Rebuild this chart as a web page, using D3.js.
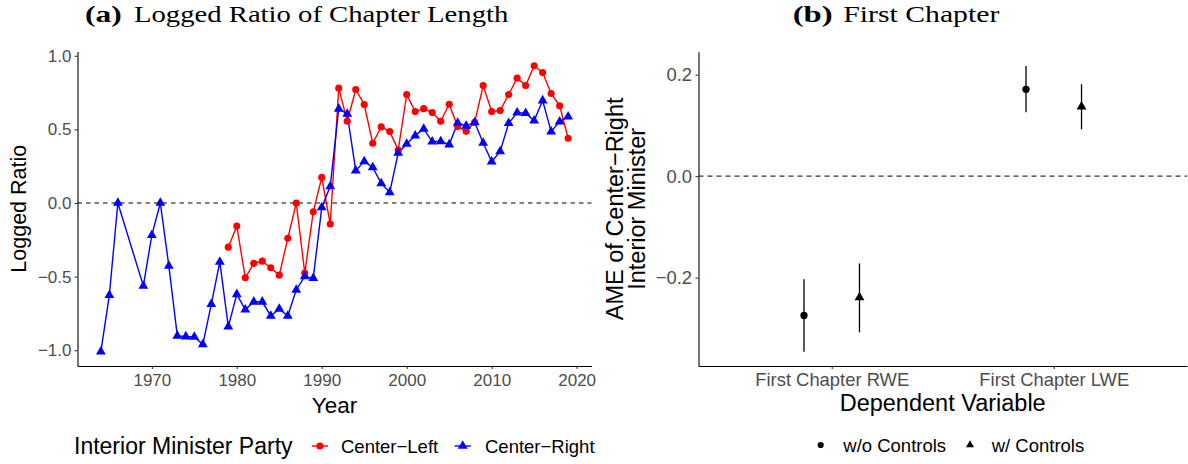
<!DOCTYPE html>
<html>
<head>
<meta charset="utf-8">
<script src="https://cdn.jsdelivr.net/npm/d3@7/dist/d3.min.js"></script>
<style>
  body { margin: 0; background: #fff; }
  svg text { font-family: "Liberation Sans", Arial, Helvetica, sans-serif; }
</style>
</head>
<body>
<svg id="chart" width="1188" height="464"></svg>
<script>
// panel (a): logged ratio by year, one series per party
const leftYears = [1979, 1980, 1981, 1982, 1983, 1984, 1985, 1986, 1987, 1988, 1989, 1990,
  1991, 1992, 1993, 1994, 1995, 1996, 1997, 1998, 1999, 2000, 2001, 2002, 2003, 2004,
  2005, 2006, 2007, 2008, 2009, 2010, 2011, 2012, 2013, 2014, 2015, 2016, 2017, 2018, 2019];
const leftValues = [-0.30, -0.157, -0.508, -0.41, -0.395, -0.44, -0.49, -0.24, 0.0, -0.476,
  -0.06, 0.174, -0.143, 0.78, 0.555, 0.771, 0.669, 0.406, 0.517, 0.485, 0.36, 0.737, 0.621,
  0.641, 0.614, 0.555, 0.671, 0.519, 0.487, 0.548, 0.798, 0.621, 0.628, 0.737, 0.848, 0.798,
  0.932, 0.886, 0.744, 0.66, 0.44];

const rightYears = [1964, 1965, 1966, 1969, 1970, 1971, 1972, 1973, 1974, 1975, 1976, 1977,
  1978, 1979, 1980, 1981, 1982, 1983, 1984, 1985, 1986, 1987, 1988, 1989, 1990, 1991, 1992,
  1993, 1994, 1995, 1996, 1997, 1998, 1999, 2000, 2001, 2002, 2003, 2004, 2005, 2006, 2007,
  2008, 2009, 2010, 2011, 2012, 2013, 2014, 2015, 2016, 2017, 2018, 2019];
const rightValues = [-1.01, -0.626, 0.0, -0.563, -0.218, 0.0, -0.427, -0.903, -0.907, -0.91,
  -0.96, -0.687, -0.40, -0.84, -0.62, -0.724, -0.671, -0.671, -0.767, -0.719, -0.767, -0.59,
  -0.499, -0.51, -0.03, 0.113, 0.64, 0.605, 0.22, 0.283, 0.242, 0.133, 0.072, 0.34, 0.401,
  0.458, 0.503, 0.417, 0.419, 0.397, 0.544, 0.524, 0.548, 0.408, 0.281, 0.351, 0.542, 0.614,
  0.61, 0.56, 0.696, 0.485, 0.553, 0.587];

const partyLabels = ["Center\u2212Left", "Center\u2212Right"];
const yearTicks = [1970, 1980, 1990, 2000, 2010, 2020];
const ratioTicks = [-1, -0.5, 0, 0.5, 1];

// panel (b): AME estimates with confidence intervals
const depVars = ["First Chapter RWE", "First Chapter LWE"];
const modelLabels = ["w/o Controls", "w/ Controls"];
const ameNoControls = [-0.2745, 0.171];
const ameNoControlsLow = [-0.346, 0.126];
const ameNoControlsHigh = [-0.203, 0.217];
const ameControls = [-0.239, 0.137];
const ameControlsLow = [-0.308, 0.092];
const ameControlsHigh = [-0.172, 0.181];
const ameTicks = [-0.2, 0, 0.2];

const svg = d3.select("#chart");
const tickGrey = "#4d4d4d";

function expand(ext, f) {
  const pad = (ext[1] - ext[0]) * f;
  return [ext[0] - pad, ext[1] + pad];
}

function styleAxis(g, size) {
  g.select(".domain").attr("stroke", "#000").attr("stroke-width", 1.1);
  g.selectAll(".tick line").attr("stroke", "#333").attr("stroke-width", 1.1);
  g.selectAll(".tick text").attr("fill", tickGrey).style("font-size", size + "px")
    .style("font-family", '"Liberation Sans", Arial, sans-serif');
}

function serifTitle(boldText, boldX, boldW, restText, restX, restW) {
  svg.append("text").attr("x", boldX).attr("y", 22)
    .attr("textLength", boldW).attr("lengthAdjust", "spacingAndGlyphs")
    .style("font-family", '"Liberation Serif", "DejaVu Serif", serif')
    .style("font-weight", "bold").style("font-size", "23px").text(boldText);
  svg.append("text").attr("x", restX).attr("y", 22)
    .attr("textLength", restW).attr("lengthAdjust", "spacingAndGlyphs")
    .style("font-family", '"Liberation Serif", "DejaVu Serif", serif')
    .style("font-size", "23px").text(restText);
}

// ---------- panel (a) ----------
const seriesA = [
  { party: partyLabels[0], color: "#ff0000", shape: d3.symbolCircle, size: 40,
    points: leftYears.map((yr, i) => ({ year: yr, value: leftValues[i] })) },
  { party: partyLabels[1], color: "#0000ff", shape: d3.symbolTriangle, size: 42,
    points: rightYears.map((yr, i) => ({ year: yr, value: rightValues[i] })) }
];

const allYears = leftYears.concat(rightYears);
const allVals = leftValues.concat(rightValues);
const xA = d3.scaleLinear().domain(expand(d3.extent(allYears), 0.05)).range([77.5, 591.5]);
const yA = d3.scaleLinear().domain(expand(d3.extent(allVals), 0.05)).range([366, 51.5]);

svg.append("g").attr("transform", "translate(0,366)")
  .call(d3.axisBottom(xA).tickValues(yearTicks).tickFormat(d3.format("d"))
    .tickSizeInner(3).tickSizeOuter(0).tickPadding(5))
  .call(g => styleAxis(g, 17));

svg.append("g").attr("transform", "translate(77.5,0)")
  .call(d3.axisLeft(yA).tickValues(ratioTicks).tickFormat(d3.format(".1f"))
    .tickSizeInner(3).tickSizeOuter(0).tickPadding(3))
  .call(g => styleAxis(g, 17));

svg.append("line")
  .attr("x1", xA.range()[0]).attr("x2", xA.range()[1])
  .attr("y1", yA(0)).attr("y2", yA(0))
  .attr("stroke", "#000").attr("stroke-width", 1.2).attr("stroke-dasharray", "4.5,4");

const lineA = d3.line().x(d => xA(d.year)).y(d => yA(d.value));
seriesA.forEach(s => {
  svg.append("path").datum(s.points).attr("d", lineA)
    .attr("fill", "none").attr("stroke", s.color).attr("stroke-width", 1.4);
});
seriesA.forEach(s => {
  svg.append("g").selectAll("path").data(s.points).join("path")
    .attr("transform", d => `translate(${xA(d.year)},${yA(d.value)})`)
    .attr("d", d3.symbol().type(s.shape).size(s.size))
    .attr("fill", s.color);
});

svg.append("text").attr("x", 334.5).attr("y", 413)
  .attr("text-anchor", "middle").style("font-size", "22.5px").text("Year");
svg.append("text")
  .attr("transform", `translate(26,${(366 + 51.5) / 2}) rotate(-90)`)
  .attr("text-anchor", "middle").style("font-size", "21.5px").text("Logged Ratio");

serifTitle("(a)", 85, 36.7, "Logged Ratio of Chapter Length", 134, 374.3);

// legend (a)
svg.append("text").attr("x", 74).attr("y", 454.2)
  .style("font-size", "23px").text("Interior Minister Party");
const legA = [
  { lineX: 311.8, textX: 341 },
  { lineX: 454.6, textX: 485 }
];
seriesA.forEach((s, i) => {
  const k = legA[i];
  svg.append("line").attr("x1", k.lineX).attr("x2", k.lineX + 16.2)
    .attr("y1", 446).attr("y2", 446).attr("stroke", s.color).attr("stroke-width", 1.4);
  svg.append("path").attr("transform", `translate(${k.lineX + 8.1},446)`)
    .attr("d", d3.symbol().type(s.shape).size(s.size)).attr("fill", s.color);
  svg.append("text").attr("x", k.textX).attr("y", 452.6)
    .style("font-size", "18.5px").text(s.party);
});

// ---------- panel (b) ----------
const ameRows = [];
depVars.forEach((dv, i) => {
  ameRows.push({ dv, model: modelLabels[0], est: ameNoControls[i], lo: ameNoControlsLow[i], hi: ameNoControlsHigh[i] });
  ameRows.push({ dv, model: modelLabels[1], est: ameControls[i], lo: ameControlsLow[i], hi: ameControlsHigh[i] });
});

const xB = d3.scalePoint().domain(depVars).range([698.5, 1187]).padding(0.6);
const dodge = d3.scalePoint().domain(modelLabels).range([-0.125, 0.125].map(v => v * xB.step()));
const yB = d3.scaleLinear()
  .domain(expand(d3.extent(ameNoControlsLow.concat(ameNoControlsHigh, ameControlsLow, ameControlsHigh)), 0.05))
  .range([366, 51.7]);
const shapeB = d3.scaleOrdinal().domain(modelLabels).range([d3.symbolCircle, d3.symbolTriangle]);

svg.append("g").attr("transform", "translate(0,366)")
  .call(d3.axisBottom(xB).tickSizeInner(3).tickSizeOuter(0).tickPadding(4))
  .call(g => styleAxis(g, 18.4));

svg.append("g").attr("transform", "translate(698.5,0)")
  .call(d3.axisLeft(yB).tickValues(ameTicks).tickFormat(d3.format(".1f"))
    .tickSizeInner(3).tickSizeOuter(0).tickPadding(3.5))
  .call(g => styleAxis(g, 18.4));

svg.append("line")
  .attr("x1", 698.5).attr("x2", 1187)
  .attr("y1", yB(0)).attr("y2", yB(0))
  .attr("stroke", "#333").attr("stroke-width", 1.1).attr("stroke-dasharray", "5,4");

const bx = d => xB(d.dv) + dodge(d.model);
svg.append("g").selectAll("line").data(ameRows).join("line")
  .attr("x1", bx).attr("x2", bx)
  .attr("y1", d => yB(d.lo)).attr("y2", d => yB(d.hi))
  .attr("stroke", "#000").attr("stroke-width", 1.3);
svg.append("g").selectAll("path").data(ameRows).join("path")
  .attr("transform", d => `translate(${bx(d)},${yB(d.est)})`)
  .attr("d", d => d3.symbol().type(shapeB(d.model)).size(d.model === modelLabels[0] ? 42 : 42)())
  .attr("fill", "#000");

svg.append("text").attr("x", 942.7).attr("y", 411)
  .attr("text-anchor", "middle").style("font-size", "23.5px").text("Dependent Variable");
const ameTitle = svg.append("text")
  .attr("transform", `translate(0,${(366 + 51.7) / 2}) rotate(-90)`)
  .attr("text-anchor", "middle").style("font-size", "23.5px");
ameTitle.append("tspan").attr("x", 0).attr("y", 623).text("AME of Center\u2212Right");
ameTitle.append("tspan").attr("x", 0).attr("y", 645).text("Interior Minister");

serifTitle("(b)", 792.7, 40, "First Chapter", 843.3, 156);

// legend (b)
const legB = [{ keyX: 820.7, textX: 843.3 }, { keyX: 970, textX: 991.7 }];
modelLabels.forEach((m, i) => {
  svg.append("path").attr("transform", `translate(${legB[i].keyX},445)`)
    .attr("d", d3.symbol().type(shapeB(m)).size(i === 0 ? 30 : 28)).attr("fill", "#000");
  svg.append("text").attr("x", legB[i].textX).attr("y", 451.6)
    .style("font-size", "18.5px").text(m);
});
</script>
</body>
</html>
